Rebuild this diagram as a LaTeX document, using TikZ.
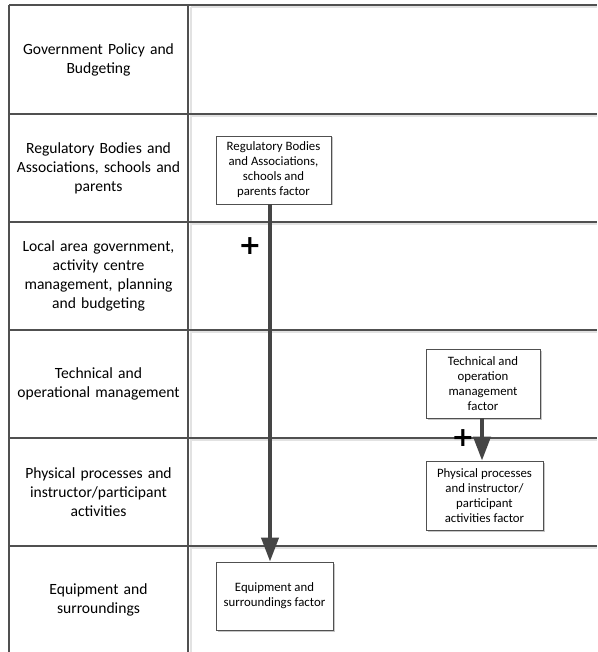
\documentclass[tikz,border=0pt]{standalone}
\usepackage{fontspec}
\setmainfont{Carlito}
\newfontfamily\plusfont{DejaVu Sans}
\usetikzlibrary{arrows.meta,shadows}
\definecolor{lanecol}{HTML}{505050}
\definecolor{shadecol}{HTML}{E2E2E2}
\definecolor{arrcol}{HTML}{454545}
\begin{document}
\begin{tikzpicture}[x=1pt,y=-1pt,
  lanelabel/.style={align=center,text width=178pt,font=\fontsize{15.6}{19}\selectfont,inner sep=0pt},
  factorbox/.style={draw=lanecol,line width=0.8pt,fill=white,align=center,inner sep=0pt,
     font=\fontsize{12.8}{15}\selectfont,
     drop shadow={shadow xshift=1.5pt,shadow yshift=-1.5pt,fill=black!22,opacity=1}},
  lane/.style={draw=lanecol,line width=1.1pt},
  laneshade/.style={draw=shadecol,line width=1.6pt},
  flow/.style={draw=arrcol,line width=4pt,-{Triangle[length=24pt,width=17pt]}},
  plussign/.style={font=\plusfont\bfseries\fontsize{27}{27}\selectfont,inner sep=0pt}]
\useasboundingbox[fill=white] (0,0) rectangle (597,652);
% shading lines (light)
\foreach \yy in {5,114,222,330,438,546}{
  \draw[laneshade] (191,\yy+2.2) -- (597,\yy+2.2);
}
\draw[laneshade] (191,7) -- (191,652);
% lane lines
\foreach \yy in {5,114,222,330,438,546}{
  \draw[lane] (9,\yy) -- (597,\yy);
}
\draw[lane] (9,5) -- (9,652);
\draw[lane] (188,5) -- (188,652);
% lane labels
\node[lanelabel] (l1) at (98.5,60) {Government Policy and\\Budgeting};
\node[lanelabel] (l2) at (98.5,168) {Regulatory Bodies and\\Associations, schools and\\parents};
\node[lanelabel] (l3) at (98.5,276) {Local area government,\\activity centre\\management, planning\\and budgeting};
\node[lanelabel] (l4) at (98.5,384) {Technical and\\operational management};
\node[lanelabel] (l5) at (98.5,492) {Physical processes and\\instructor/participant\\activities};
\node[lanelabel] (l6) at (98.5,600) {Equipment and\\surroundings};
% factor boxes
\node[factorbox,minimum width=115pt,minimum height=68pt] (reg) at (273.5,170)
  {Regulatory Bodies\\and Associations,\\schools and\\parents factor};
\node[factorbox,minimum width=117pt,minimum height=68pt] (equ) at (274.5,596)
  {Equipment and\\surroundings factor};
\node[factorbox,minimum width=114pt,minimum height=69pt] (tech) at (483,383.5)
  {Technical and\\operation\\management\\factor};
\node[factorbox,minimum width=117pt,minimum height=69pt] (phys) at (484.5,495.5)
  {Physical processes\\and instructor/\\participant\\activities factor};
% arrows
\coordinate (ax) at (270,0);
\coordinate (bx) at (482,0);
\draw[flow] (reg.south -| ax) -- (equ.north -| ax);
\draw[flow] (tech.south -| bx) -- (phys.north -| bx);
% plus signs
\node[plussign] (p1) at (250,246) {+};
\node[plussign] (p2) at (463,438) {+};
\end{tikzpicture}
\end{document}
